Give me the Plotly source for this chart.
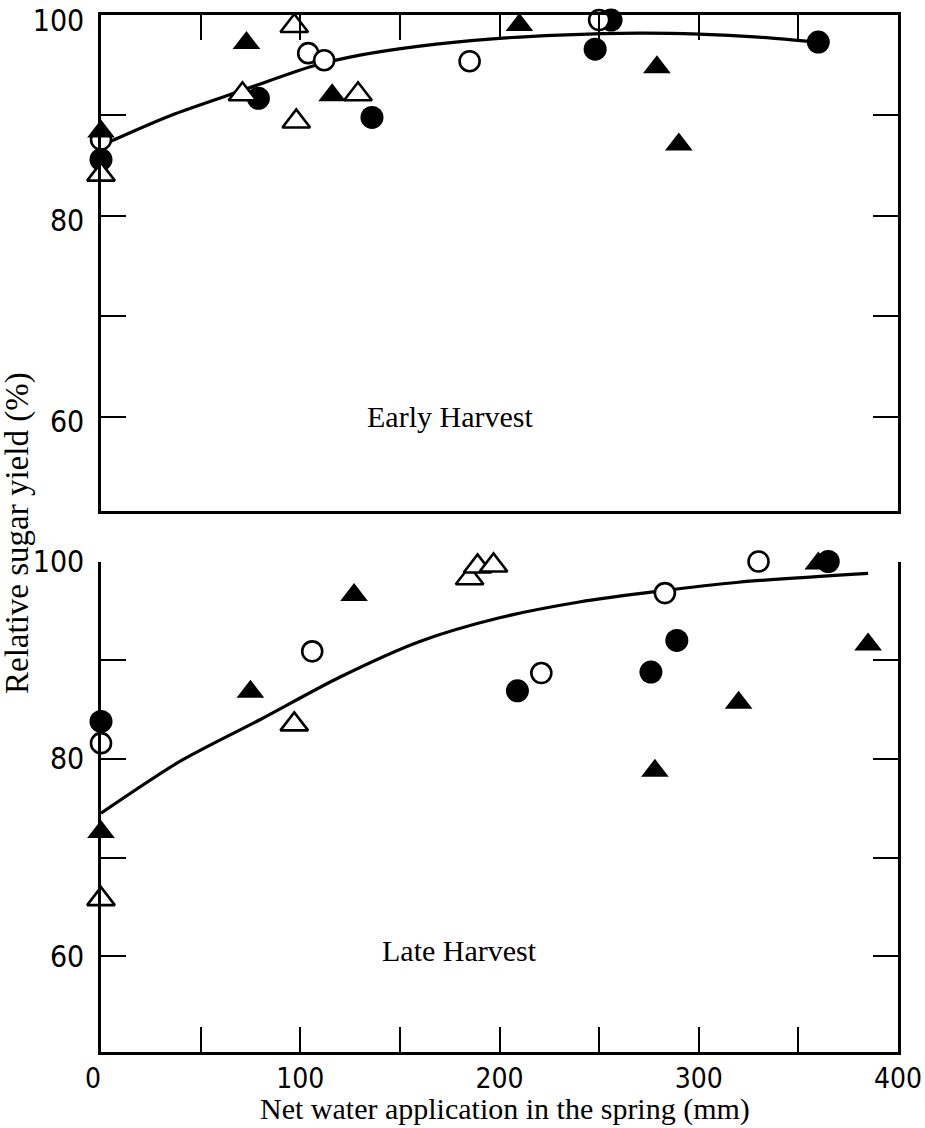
import plotly.graph_objects as go

# ---------------- data ----------------
# Early harvest (top panel)
early_fc_x = [0, 79, 136, 248, 256, 360]          # filled circles
early_fc_y = [85.6, 91.7, 89.8, 96.6, 99.5, 97.3]
early_oc_x = [0, 104, 112, 185, 250]              # open circles
early_oc_y = [87.6, 96.2, 95.5, 95.4, 99.5]
early_ft_x = [0, 73, 116, 210, 279, 290]          # filled triangles
early_ft_y = [88.4, 97.2, 92.0, 99.0, 94.8, 87.1]
early_ot_x = [0, 97, 71, 98, 129]                 # open triangles
early_ot_y = [84.1, 98.9, 92.1, 89.4, 92.1]
early_fit_x = [0, 35, 71, 106, 130, 160, 195, 230, 270, 300, 330, 360]
early_fit_y = [87.0, 90.0, 92.5, 94.9, 96.0, 96.9, 97.6, 98.0, 98.2, 98.1, 97.8, 97.3]

# Late harvest (bottom panel)
late_fc_x = [0, 209, 276, 289, 365]
late_fc_y = [83.8, 86.9, 88.8, 92.0, 100.0]
late_oc_x = [0, 106, 221, 283, 330]
late_oc_y = [81.6, 90.9, 88.7, 96.8, 100.0]
late_ft_x = [0, 75, 127, 278, 320, 360, 385]
late_ft_y = [72.6, 86.8, 96.6, 78.8, 85.7, 99.8, 91.6]
late_ot_x = [0, 97, 185, 189, 197]
late_ot_y = [65.8, 83.5, 98.3, 99.5, 99.6]
late_fit_x = [0, 40, 80, 120, 160, 200, 240, 280, 320, 385]
late_fit_y = [74.5, 79.8, 84.0, 88.3, 91.9, 94.3, 95.9, 97.0, 97.9, 98.8]

y_tickvals = [60, 70, 80, 90, 100]
y_ticktext = ["60", "", "80", "", "100"]
x_tickvals = [0, 50, 100, 150, 200, 250, 300, 350, 400]
x_ticktext = ["0\u00a0\u00a0", "", "100", "", "200", "", "300", "", "400"]

# ---------------- figure ----------------
W, H = 925, 1128
fig = go.Figure()

BLACK = "black"
NUMFAMILY = "DejaVu Sans Condensed, Liberation Sans Narrow, Liberation Sans"
YNUMFONT = dict(family=NUMFAMILY, size=30, color=BLACK)
XNUMFONT = dict(family=NUMFAMILY, size=28, color=BLACK)
SERIF = "Liberation Serif, DejaVu Serif, serif"


def add_panel(xa, ya, fit_x, fit_y, series):
    fig.add_trace(go.Scatter(x=fit_x, y=fit_y, mode="lines", xaxis=xa, yaxis=ya,
                             line=dict(color=BLACK, width=3.2, shape="spline", smoothing=0.8),
                             hoverinfo="skip", showlegend=False))
    for sx, sy, sym, fill in series:
        fig.add_trace(go.Scatter(
            x=sx, y=sy, mode="markers", xaxis=xa, yaxis=ya, cliponaxis=False,
            showlegend=False,
            marker=dict(symbol=sym, size=(24 if "triangle" in sym else (23 if fill == BLACK else 20)),
                        color=fill, line=dict(color=BLACK, width=(0 if fill == BLACK else 2.6)))))


add_panel("x", "y", early_fit_x, early_fit_y, [
    (early_fc_x, early_fc_y, "circle", BLACK),
    (early_oc_x, early_oc_y, "circle", "white"),
    (early_ft_x, early_ft_y, "triangle-up", BLACK),
    (early_ot_x, early_ot_y, "triangle-up", "white"),
])
add_panel("x2", "y2", late_fit_x, late_fit_y, [
    (late_ft_x, late_ft_y, "triangle-up", BLACK),
    (late_oc_x, late_oc_y, "circle", "white"),
    (late_fc_x, late_fc_y, "circle", BLACK),
    (late_ot_x, late_ot_y, "triangle-up", "white"),
])

xdom = [101 / W, 898 / W]
top_dom = [1 - 511 / H, 1 - 15 / H]
bot_dom = [1 - 1051.7 / H, 1 - 561.5 / H]

axis_common = dict(showgrid=False, zeroline=False, showline=True, linecolor=BLACK, linewidth=2.5,
                   ticks="inside", ticklen=25, tickwidth=2, tickcolor=BLACK, automargin=False,
                   ticklabeloverflow="allow")

fig.update_layout(
    width=W, height=H, margin=dict(l=0, r=0, t=0, b=0, autoexpand=False),
    paper_bgcolor="white", plot_bgcolor="white", showlegend=False,
    xaxis=dict(domain=xdom, range=[0, 400], anchor="y", side="top", mirror=True,
               tickvals=x_tickvals, showticklabels=False, **axis_common),
    yaxis=dict(domain=top_dom, range=[50.6, 100], anchor="x", mirror="ticks",
               tickvals=y_tickvals, ticktext=y_ticktext, tickfont=YNUMFONT,
               ticklabelstandoff=8, ticklabelshift=5, **axis_common),
    xaxis2=dict(domain=xdom, range=[0, 400], anchor="y2", side="bottom", mirror=False,
                tickvals=x_tickvals, ticktext=x_ticktext, tickfont=XNUMFONT,
                ticklabelstandoff=0, **axis_common),
    yaxis2=dict(domain=bot_dom, range=[50.35, 100], anchor="x2", mirror="ticks",
                tickvals=y_tickvals, ticktext=y_ticktext, tickfont=YNUMFONT,
                ticklabelstandoff=8, **axis_common),
)

fig.add_annotation(x=175, y=60, xref="x", yref="y", text="Early Harvest", showarrow=False,
                   font=dict(family=SERIF, size=30, color=BLACK))
fig.add_annotation(x=180, y=60.6, xref="x2", yref="y2", text="Late Harvest", showarrow=False,
                   font=dict(family=SERIF, size=30, color=BLACK))
fig.add_annotation(x=18 / W, y=1 - 533 / H, xref="paper", yref="paper", text="Relative sugar yield (%)",
                   xanchor="center", yanchor="middle",
                   textangle=-90, showarrow=False, font=dict(family=SERIF, size=33, color=BLACK))
fig.add_annotation(x=505 / W, y=1 - 1109 / H, xref="paper", yref="paper",
                   xanchor="center", yanchor="middle",
                   text="Net water application in the spring (mm)", showarrow=False,
                   font=dict(family=SERIF, size=30, color=BLACK))

fig.write_html("out.html")
